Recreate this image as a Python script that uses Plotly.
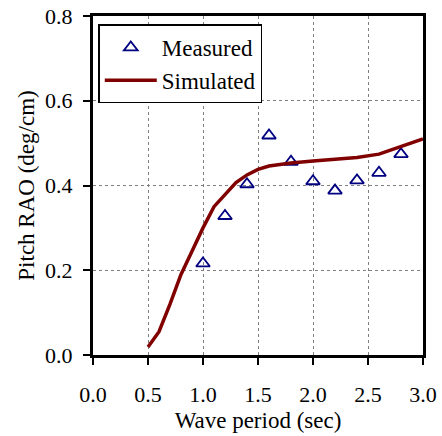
import plotly.graph_objects as go

# Measured pitch RAO from the wave tank
measured_period = [1.0, 1.2, 1.4, 1.6, 1.8, 2.0, 2.2, 2.4, 2.6, 2.8]
measured_rao = [0.216, 0.328, 0.403, 0.518, 0.456, 0.41, 0.388, 0.412, 0.43, 0.474]

# Simulated pitch RAO
sim_period = [0.5, 0.6, 0.7, 0.8, 0.9, 1.0, 1.1, 1.2, 1.3, 1.4, 1.5, 1.6, 1.7, 1.8,
              2.0, 2.2, 2.4, 2.6, 2.8, 3.0]
sim_rao = [0.019, 0.055, 0.12, 0.19, 0.245, 0.3, 0.35, 0.38, 0.407, 0.425, 0.438, 0.446,
           0.45, 0.453, 0.458, 0.462, 0.466, 0.474, 0.492, 0.51]

x_ticks = [0.0, 0.5, 1.0, 1.5, 2.0, 2.5, 3.0]
y_ticks = [0.0, 0.2, 0.4, 0.6, 0.8]

font_family = "Liberation Serif, Times New Roman, serif"

fig = go.Figure()
fig.add_trace(go.Scatter(
    x=measured_period, y=measured_rao, mode="markers", name="Measured",
    marker=dict(symbol="triangle-up-open", size=12, color="#000080",
                line=dict(width=1.8, color="#000080")),
))
fig.add_trace(go.Scatter(
    x=sim_period, y=sim_rao, mode="lines", name="Simulated",
    line=dict(color="#800000", width=3.5),
))

axis_common = dict(
    showline=True, linewidth=3, linecolor="black", mirror=True,
    ticks="outside", ticklen=7, tickwidth=2, tickcolor="black",
    showgrid=True, gridcolor="#808080", gridwidth=1, griddash="dot",
    zeroline=False, automargin=False,
    tickfont=dict(family=font_family, size=22, color="black"),
)

fig.update_xaxes(
    range=[0, 3.0], tickvals=x_ticks, ticktext=[f"{v:.1f}" for v in x_ticks],
    ticklabelstandoff=11,
    title=dict(text="Wave period (sec)", font=dict(family=font_family, size=23, color="black"),
               standoff=6),
    **axis_common,
)
fig.update_yaxes(
    range=[0, 0.8], tickvals=y_ticks, ticktext=[f"{v:.1f}" for v in y_ticks],
    ticklabelstandoff=6,
    title=dict(text="Pitch RAO (deg/cm)", font=dict(family=font_family, size=23, color="black"),
               standoff=5),
    **axis_common,
)

fig.update_layout(
    width=442, height=436,
    margin=dict(l=93, r=19, t=16, b=81),
    paper_bgcolor="white", plot_bgcolor="white",
    font=dict(family=font_family, size=22, color="black"),
    legend=dict(
        x=0.016, y=0.975, xanchor="left", yanchor="top",
        bgcolor="white", bordercolor="black", borderwidth=1.5,
        font=dict(family=font_family, size=23, color="black"),
        tracegroupgap=0, itemwidth=52,
    ),
    showlegend=True,
)

fig.write_html("out.html")
